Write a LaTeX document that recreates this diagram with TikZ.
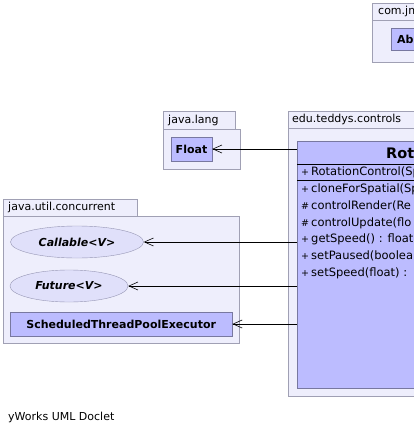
\documentclass[tikz,border=0pt]{standalone}
\usepackage{fontspec}
\setmainfont{DejaVu Sans}
\usetikzlibrary{arrows.meta,positioning,shapes.geometric}
\definecolor{pkgfill}{RGB}{238,238,252}
\definecolor{pkgline}{RGB}{160,160,180}
\definecolor{clsfill}{RGB}{188,188,255}
\definecolor{clsline}{RGB}{120,120,160}
\definecolor{ifcfill}{RGB}{224,224,250}
\definecolor{ifcline}{RGB}{150,150,180}
\newcommand{\txtfont}{\fontsize{11}{13}\selectfont}
\tikzset{
  pkgbox/.style={draw=pkgline,fill=pkgfill},
  pkglabel/.style={anchor=west,inner sep=0pt,font=\txtfont},
  cls/.style={rectangle,draw=clsline,fill=clsfill,inner sep=0pt,font=\txtfont\bfseries},
  ifc/.style={ellipse,draw=ifcline,fill=ifcfill,inner sep=0pt,font=\txtfont\bfseries\itshape},
  member/.style={inner sep=0pt,minimum height=16.4pt,text height=8.5pt,text depth=2.5pt,font=\fontsize{11.5}{13}\selectfont},
  dep/.style={-{Straight Barb[length=9pt,width=8pt]},black,line width=0.6pt},
}
\newcommand{\vis}[1]{\makebox[10pt][l]{\fontsize{9.5}{10}\selectfont #1}}

\begin{document}
\begin{tikzpicture}[x=1pt,y=-1pt]
  \useasboundingbox (0,0) rectangle (414,434);
  \clip (0,0) rectangle (414,434);
  % packages
  \draw[pkgbox] (372,3) rectangle (420,20);
  \draw[pkgbox] (372,20) rectangle (420,62);
  \node[pkglabel] (jmelbl) at (378,11.5) {com.jm};
  \draw[pkgbox] (163,111) rectangle (235,129);
  \draw[pkgbox] (163,129) rectangle (240,169);
  \node[pkglabel] (langlbl) at (168,120) {java.lang};
  \draw[pkgbox] (288,111) rectangle (420,128);
  \draw[pkgbox] (288,128) rectangle (420,396);
  \node[pkglabel] (ctrllbl) at (292,119.5) {edu.teddys.controls};
  \draw[pkgbox] (3,199) rectangle (137,216);
  \draw[pkgbox] (3,216) rectangle (239,343);
  \node[pkglabel] (conclbl) at (8,207.5) {java.util.concurrent};
  % classes
  \node[cls,anchor=north west,minimum height=22pt,inner xsep=6pt,text width=28pt,align=left] (abs) at (391,28) {Ab};
  \node[cls,minimum width=41pt,minimum height=24pt] (flt) at (191.5,149) {Float};
  \node[ifc,minimum width=133pt,minimum height=32pt] (call) at (77,242) {Callable<V>};
  \node[ifc,minimum width=118pt,minimum height=32pt] (fut) at (69,286) {Future<V>};
  \node[cls,anchor=west,minimum width=222pt,minimum height=24pt] (stpe) at (10,324) {ScheduledThreadPoolExecutor};
  \node[cls,anchor=north west,minimum width=200pt,minimum height=247pt] (rc) at (297,141) {};
  \node[anchor=base west,inner sep=0pt,font=\fontsize{14.5}{16}\selectfont\bfseries] (rcname) at (386,158) {Rot};
  \draw (rc.west |- 0,164) -- (rc.east |- 0,164);
  \node[member,anchor=north west] (m0) at (301,164) {\vis{+}RotationControl(Sp};
  \draw (rc.west |- 0,180) -- (rc.east |- 0,180);
  \node[member,anchor=north west] (m1) at (301,181) {\vis{+}cloneForSpatial(Sp};
  \node[member,below right=0pt and 0pt of m1.south west] (m2) {\vis{\#}controlRender(Re};
  \node[member,below right=0pt and 0pt of m2.south west] (m3) {\vis{\#}controlUpdate(flo};
  \node[member,below right=0pt and 0pt of m3.south west] (m4) {\vis{+}getSpeed() : float};
  \node[member,below right=0pt and 0pt of m4.south west] (m5) {\vis{+}setPaused(boolea};
  \node[member,below right=0pt and 0pt of m5.south west] (m6) {\vis{+}setSpeed(float) :};
  % dependencies
  \draw[dep] (rc.west |- flt.east) -- (flt.east);
  \draw[dep] (rc.west |- call.east) -- (call.east);
  \draw[dep] (rc.west |- fut.east) -- (fut.east);
  \draw[dep] (rc.west |- stpe.east) -- (stpe.east);
  \node[anchor=west,inner sep=0pt,font=\fontsize{11}{13}\selectfont] (doclet) at (8,417) {yWorks UML Doclet};
\end{tikzpicture}
\end{document}
